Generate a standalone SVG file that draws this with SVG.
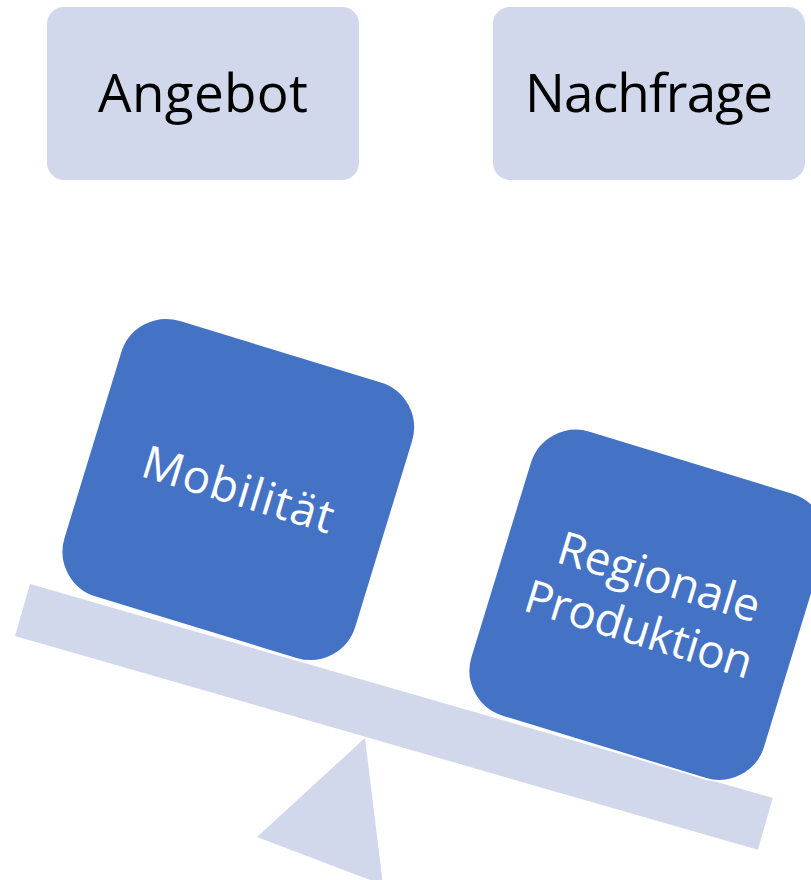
<svg xmlns="http://www.w3.org/2000/svg" width="811" height="880" viewBox="0 0 811 880">
  <style>
    .light { fill: #D2D8EB; }
    .block { fill: #4472C4; stroke: #FFFFFF; stroke-width: 2; }
    .lbl { font-family: "Open Sans", "Liberation Sans", sans-serif; font-size: 53px; fill: #000000; text-anchor: middle; }
    .wlbl { font-family: "Open Sans", "Liberation Sans", sans-serif; font-size: 46px; fill: #FFFFFF; text-anchor: middle; }
  </style>
  <rect width="811" height="880" fill="#FFFFFF"/>
  <g id="angebot">
    <rect class="light" x="47" y="7" width="312" height="173" rx="17"/>
    <text class="lbl" x="203" y="111.5" textLength="210">Angebot</text>
  </g>
  <g id="nachfrage">
    <rect class="light" x="493" y="7" width="312" height="173" rx="17"/>
    <text class="lbl" x="649" y="111.5" textLength="248">Nachfrage</text>
  </g>
  <g id="fulcrum">
    <polygon class="light" points="365,738 257,837 383,885"/>
  </g>
  <g id="beam">
    <rect class="light" x="0" y="0" width="773" height="54" transform="translate(30,584) rotate(16.07)"/>
  </g>
  <g id="mobilitaet" transform="translate(238.3,489.5) rotate(17)">
    <rect class="block" x="-153" y="-145" width="306" height="290" rx="48"/>
    <text class="wlbl" x="0" y="16" textLength="198">Mobilität</text>
  </g>
  <g id="regionale-produktion" transform="translate(647.5,604.7) rotate(17)">
    <rect class="block" x="-154" y="-149.5" width="308" height="299" rx="48"/>
    <text class="wlbl" x="3" y="-14" textLength="209">Regionale</text>
    <text class="wlbl" x="-1" y="42" textLength="236">Produktion</text>
  </g>
  <g id="connectors"/>
</svg>
